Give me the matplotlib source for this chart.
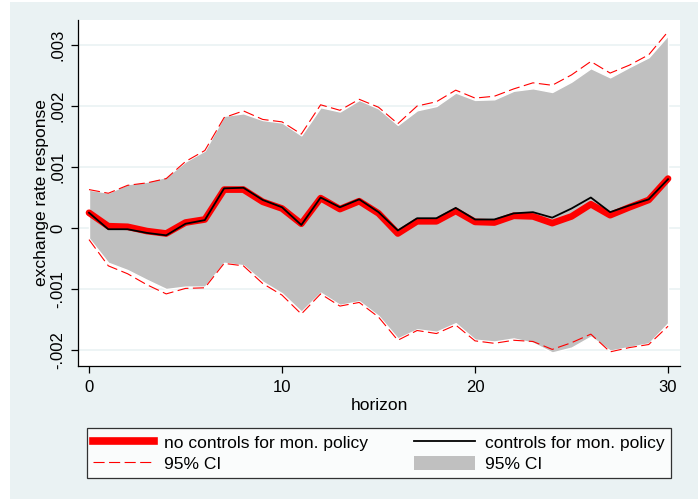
import numpy as np
import matplotlib
matplotlib.use("Agg")
import matplotlib.pyplot as plt
from matplotlib.patches import Rectangle, Patch
from matplotlib.lines import Line2D

plt.rcParams["font.family"] = ["Liberation Sans", "DejaVu Sans"]

# ---------- data (values in units of 0.001) ----------
horizon = np.arange(31)
irf_nocontrol = [0.25, 0.03, 0.02, -0.05, -0.09, 0.09, 0.14, 0.63, 0.63, 0.43,
                 0.32, 0.07, 0.49, 0.31, 0.44, 0.24, -0.09, 0.11, 0.11, 0.28,
                 0.10, 0.09, 0.20, 0.19, 0.08, 0.19, 0.39, 0.21, 0.34, 0.46, 0.81]
irf_control = [0.25, -0.02, -0.02, -0.08, -0.12, 0.07, 0.13, 0.65, 0.66, 0.46,
               0.34, 0.05, 0.50, 0.34, 0.47, 0.26, -0.04, 0.16, 0.16, 0.33,
               0.14, 0.14, 0.24, 0.26, 0.17, 0.32, 0.50, 0.26, 0.37, 0.47, 0.80]
ci_hi_nocontrol = [0.63, 0.57, 0.70, 0.74, 0.81, 1.09, 1.27, 1.81, 1.92, 1.78,
                   1.74, 1.54, 2.02, 1.93, 2.11, 1.98, 1.71, 2.00, 2.07, 2.26,
                   2.13, 2.16, 2.28, 2.38, 2.34, 2.51, 2.73, 2.54, 2.67, 2.84, 3.22]
ci_lo_nocontrol = [-0.19, -0.62, -0.75, -0.93, -1.08, -0.99, -0.98, -0.58, -0.62, -0.91,
                   -1.10, -1.41, -1.08, -1.28, -1.22, -1.46, -1.84, -1.68, -1.73, -1.59,
                   -1.85, -1.89, -1.84, -1.86, -1.99, -1.88, -1.74, -2.03, -1.96, -1.91, -1.61]
ci_hi_control = [0.63, 0.58, 0.72, 0.76, 0.84, 1.09, 1.27, 1.84, 1.88, 1.77,
                 1.73, 1.52, 1.98, 1.91, 2.10, 1.96, 1.69, 1.93, 2.00, 2.22,
                 2.10, 2.11, 2.25, 2.29, 2.23, 2.40, 2.62, 2.47, 2.64, 2.80, 3.16]
ci_lo_control = [-0.17, -0.57, -0.69, -0.85, -1.00, -0.96, -0.96, -0.57, -0.61, -0.88,
                 -1.07, -1.37, -1.06, -1.26, -1.20, -1.44, -1.81, -1.66, -1.70, -1.56,
                 -1.83, -1.86, -1.81, -1.88, -2.04, -1.96, -1.78, -2.01, -1.95, -1.89, -1.56]

xticks = [0, 10, 20, 30]
yticks = [-0.002, -0.001, 0, 0.001, 0.002, 0.003]
ytick_labels = ["-.002", "-.001", "0", ".001", ".002", ".003"]

scale = 1e-3
BG = "#EAF2F3"
GRAY = "#C0C0C0"

# ---------- figure ----------
fig = plt.figure(figsize=(6.98, 4.99), dpi=100, facecolor="white")
fig.patches.append(Rectangle((10 / 698, 0), 688 / 698, 497 / 499,
                             transform=fig.transFigure, facecolor=BG,
                             edgecolor="none", zorder=-10))

ax = fig.add_axes([78 / 698, 1 - 366 / 499, 602 / 698, 346 / 499])
ax.set_facecolor("white")

lo_c = np.array(ci_lo_control) * scale
hi_c = np.array(ci_hi_control) * scale
ax.fill_between(horizon, lo_c, hi_c, facecolor=GRAY, edgecolor="white",
                linewidth=1.0, zorder=2)

dash_kw = dict(color="#FF0000", lw=0.8, dashes=(10, 4), zorder=3)
ax.plot(horizon, np.array(ci_hi_nocontrol) * scale, **dash_kw)
ax.plot(horizon, np.array(ci_lo_nocontrol) * scale, **dash_kw)
ax.plot(horizon, np.array(irf_nocontrol) * scale, color="#FF0000", lw=4.8,
        solid_capstyle="round", solid_joinstyle="round", zorder=4)
ax.plot(horizon, np.array(irf_control) * scale, color="black", lw=1.3, zorder=5)

ax.set_xlim(-0.57, 30.62)
ax.set_ylim(-0.002262, 0.00341)

ax.set_xticks(xticks)
ax.set_yticks(yticks)
ax.set_yticklabels(ytick_labels, rotation=90, va="center")
ax.tick_params(axis="both", direction="out", length=5, width=0.9, color="black",
               labelsize=12, pad=5)
ax.tick_params(axis="y", pad=4)

ax.grid(axis="y", color=BG, lw=1.2, zorder=0)
ax.set_axisbelow(True)
for s in ["top", "right"]:
    ax.spines[s].set_visible(False)
for s in ["left", "bottom"]:
    ax.spines[s].set_color("black")
    ax.spines[s].set_linewidth(0.9)

ax.set_xlabel("horizon", fontsize=12.5, labelpad=2)
ax.set_ylabel("exchange rate response", fontsize=12.5, labelpad=1)

# ---------- legend ----------
handles = [
    Line2D([], [], color="#FF0000", lw=5.5),
    Line2D([], [], color="#FF0000", lw=0.8, dashes=(10, 4)),
    Line2D([], [], color="black", lw=1.3),
    Patch(facecolor=GRAY, edgecolor="none"),
]
labels = ["no controls for mon. policy", "95% CI",
          "controls for mon. policy", "95% CI"]
leg = fig.legend(handles, labels, ncol=2, loc="lower left", mode="expand",
                 bbox_to_anchor=(87 / 698, 1 - 478 / 499, 584 / 698, 56 / 499),
                 fontsize=12.5, frameon=True, fancybox=False, shadow=False,
                 handlelength=3.5, handletextpad=0.6, borderpad=0.35,
                 labelspacing=0.3, borderaxespad=0, handleheight=0.9)
leg.get_frame().set_edgecolor("black")
leg.get_frame().set_linewidth(0.9)
leg.get_frame().set_facecolor("white")

fig.savefig("out.png", dpi=100, facecolor=fig.get_facecolor())
